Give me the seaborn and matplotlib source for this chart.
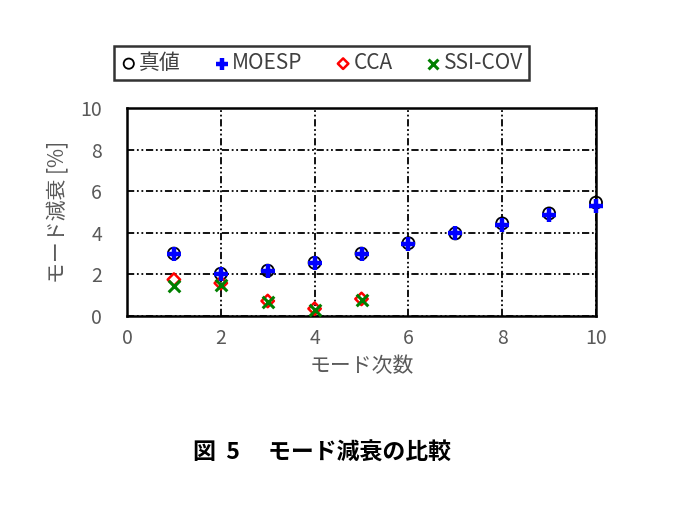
import matplotlib
matplotlib.use("Agg")
import matplotlib.pyplot as plt
import seaborn as sns
import pandas as pd

sns.set_theme(style="white")
plt.rcParams['font.family'] = ['Noto Sans CJK JP', 'DejaVu Sans']

modes_all = [1, 2, 3, 4, 5, 6, 7, 8, 9, 10]
true_vals = [3.0, 2.03, 2.18, 2.56, 3.0, 3.5, 3.97, 4.45, 4.93, 5.45]
moesp_vals = [3.0, 2.0, 2.18, 2.56, 3.0, 3.45, 3.97, 4.36, 4.84, 5.3]
modes_low = [1, 2, 3, 4, 5]
cca_vals = [1.75, 1.58, 0.72, 0.35, 0.82]
ssicov_vals = [1.45, 1.5, 0.68, 0.28, 0.78]

fig = plt.figure(figsize=(6.73, 5.05), dpi=100)
ax = fig.add_axes([0.1887, 0.3743, 0.6969, 0.4118])

sns.scatterplot(x=modes_all, y=true_vals, ax=ax, marker='o', s=75,
                facecolors='none', edgecolor='black', linewidth=1.3, label='真値',
                zorder=3, clip_on=False)
sns.scatterplot(x=modes_all, y=moesp_vals, ax=ax, marker='+', s=100,
                color='#0000ff', linewidth=3.2, label='MOESP', zorder=4, clip_on=False)
sns.scatterplot(x=modes_low, y=cca_vals, ax=ax, marker='D', s=40,
                facecolors='none', edgecolor='#ff0000', linewidth=1.8, label='CCA',
                zorder=3, clip_on=False)
sns.scatterplot(x=modes_low, y=ssicov_vals, ax=ax, marker='x', s=70,
                color='#008000', linewidth=2.2, label='SSI-COV', zorder=5, clip_on=False)

ax.set_xlim(0, 10)
ax.set_ylim(0, 10)
ax.set_xticks([0, 2, 4, 6, 8, 10])
ax.set_yticks([0, 2, 4, 6, 8, 10])
ax.tick_params(axis='both', labelsize=14, colors='#595959', length=0)
ax.tick_params(axis='x', pad=9)
ax.tick_params(axis='y', pad=18)
ax.grid(True, color='black', linestyle=(0, (4, 1.5, 1, 1.5, 1, 1.5)), linewidth=1.3)
for sp in ax.spines.values():
    sp.set_color('black')
    sp.set_linewidth(1.8)
    sp.set_zorder(2)
ax.set_xlabel('モード次数', fontsize=15, color='#595959', labelpad=4)
ax.set_ylabel('モード減衰 [%]', fontsize=15, color='#595959', labelpad=8)

handles, labels = ax.get_legend_handles_labels()
ax.legend_.remove()
leg = fig.legend(handles, labels, loc='center', bbox_to_anchor=(0.478, 0.875), ncol=4,
                 fontsize=15, frameon=True, fancybox=False, edgecolor='black',
                 handletextpad=0.1, columnspacing=1.55, borderpad=0.3, handlelength=0.8,
                 markerscale=0.85)
leg.get_frame().set_linewidth(1.8)
for t in leg.get_texts():
    t.set_color('#404040')

fig.text(0.478, 0.102, '図  5　 モード減衰の比較', ha='center', va='center', fontsize=16.5,
         fontweight='semibold', color='black')

fig.savefig('out.png', dpi=100)
